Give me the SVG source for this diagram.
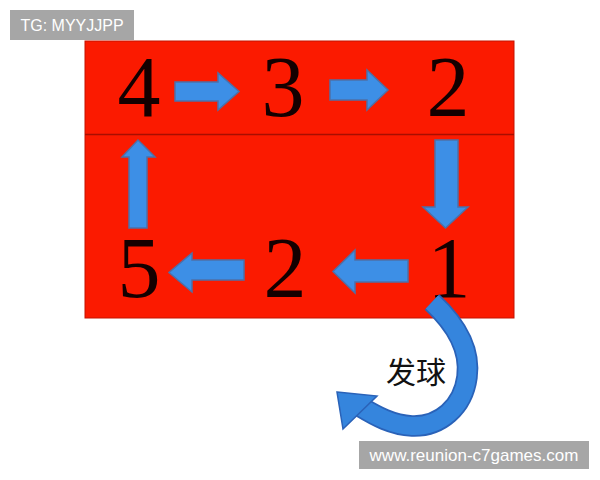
<svg xmlns="http://www.w3.org/2000/svg" width="600" height="480" viewBox="0 0 600 480">
<style>
.num{font-family:"Liberation Serif","Times New Roman",serif;font-size:86px;fill:#140000;text-anchor:middle}
.arr{fill:#3d8fe6;stroke:#4d70a8;stroke-width:1.5;stroke-linejoin:miter}
.wm{fill:#a6a6a6}
.wmt{font-family:"Liberation Sans",Arial,sans-serif;fill:#ffffff}
.cjk{font-family:"Noto Sans CJK SC","Noto Sans",sans-serif;font-size:30px;fill:#111111;text-anchor:middle}
</style>
<rect width="600" height="480" fill="#ffffff"/>
<g id="board">
<rect x="85" y="41" width="429" height="277" fill="#fb1a00" stroke="#c41200" stroke-width="1"/>
<line x1="85" y1="134.5" x2="514" y2="134.5" stroke="#a80e00" stroke-width="1.5"/>
</g>
<g id="n4"><text class="num" x="139" y="116">4</text></g>
<g id="n3"><text class="num" x="283" y="116">3</text></g>
<g id="n2top"><text class="num" x="448" y="116">2</text></g>
<g id="n5"><text class="num" x="139" y="297">5</text></g>
<g id="n2bot"><text class="num" x="285" y="297">2</text></g>
<g id="n1"><text class="num" x="449" y="297">1</text></g>
<g id="connectors">
<polygon class="arr" points="175,82 218,82 218,73 239,91.5 218,110 218,101 175,101"/>
<polygon class="arr" points="330,80 367,80 367,70 388,90 367,110 367,100 330,100"/>
<polygon class="arr" points="435,140 458,140 458,207 468,207 445.5,228 423,207 435,207"/>
<polygon class="arr" points="408,260 355,260 355,250 333,271.5 355,293 355,282 408,282"/>
<polygon class="arr" points="244,260 192,260 192,253 169,272.5 192,292 192,280 244,280"/>
<polygon class="arr" points="129,228 129,157 122,157 138,140 155,157 147,157 147,228"/>
<g id="serve-arrow">
<path d="M432,302 C462,330 470,355 467,377 C463,407 440,427 412,426 C392,425 376,416 361,407" fill="none" stroke="#2a62b8" stroke-width="21.5"/>
<path d="M432,302 C462,330 470,355 467,377 C463,407 440,427 412,426 C392,425 376,416 361,407" fill="none" stroke="#3585dd" stroke-width="18"/>
<polygon points="337,392 377,396 343,429" fill="#3585dd" stroke="#2a62b8" stroke-width="1.5"/>
</g>
</g>
<g id="label"><text class="cjk" x="416" y="383">发球</text></g>
<g id="watermarks">
<rect class="wm" x="10" y="10" width="124" height="30"/>
<text class="wmt" x="72" y="31" font-size="16" text-anchor="middle">TG: MYYJJPP</text>
<rect class="wm" x="359" y="441" width="230" height="28"/>
<text class="wmt" x="474" y="461" font-size="17" text-anchor="middle">www.reunion-c7games.com</text>
</g>
</svg>
